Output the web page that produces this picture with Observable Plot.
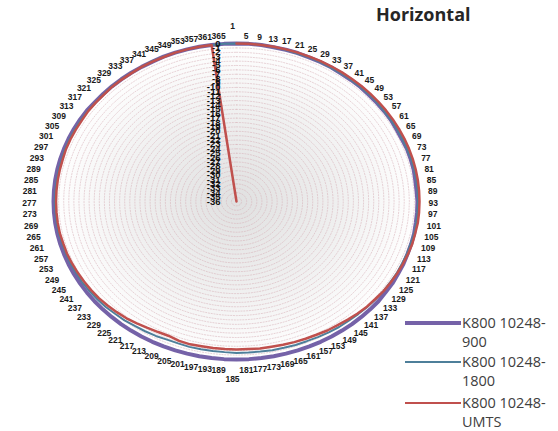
<!DOCTYPE html>
<html><head><meta charset="utf-8">
<script src="https://cdn.jsdelivr.net/npm/d3@7"></script>
<script src="https://cdn.jsdelivr.net/npm/@observablehq/plot@0.6"></script>
<style>
body{margin:0;background:#fff;}
#wrap{position:relative;width:558px;height:431px;overflow:hidden;font-family:"Open Sans",sans-serif;}
#wrap svg{position:absolute;left:0;top:0;}
#title{position:absolute;left:376px;top:2px;font-weight:700;font-size:18px;color:#262626;}
.legline{position:absolute;left:405px;width:56px;}
.legt{position:absolute;left:462px;font-size:14.5px;line-height:19px;color:#404040;white-space:nowrap;}
</style></head><body><div id="wrap"></div>
<script>
const categories = [1,5,9,13,17,21,25,29,33,37,41,45,49,53,57,61,65,69,73,77,81,85,89,93,97,101,105,109,113,117,121,125,129,133,137,141,145,149,153,157,161,165,169,173,177,181,185,189,193,197,201,205,209,213,217,221,225,229,233,237,241,245,249,253,257,261,265,269,273,277,281,285,289,293,297,301,305,309,313,317,321,325,329,333,337,341,345,349,353,357,361,365];
const radialTicks = [0,-1,-2,-3,-4,-5,-6,-7,-8,-9,-10,-11,-12,-13,-14,-15,-16,-17,-18,-19,-20,-21,-22,-23,-24,-25,-26,-27,-28,-29,-30,-31,-32,-33,-34,-35,-36];
const s900 = [0,0,0,-0.1,-0.1,-0.1,-0.2,-0.2,-0.2,-0.3,
 -0.3,-0.3,-0.4,-0.4,-0.4,-0.4,-0.5,-0.5,-0.4,-0.4,
 -0.4,-0.5,-0.5,-0.4,-0.4,-0.4,-0.3,-0.3,-0.3,-0.2,
 -0.2,-0.1,-0.1,0,0,0,0,0,0,0,
 0,0,0,0,0,0,0,0,0,0,
 0,0,0,0,0,0,0,0,0,0,
 0,0,0,0,0,0,0,0,0,0,
 0,0,0,0,0,0,0,0,0,-0.1,
 -0.1,-0.1,-0.1,-0.1,-0.1,-0.1,0,0,0,0,
 0,0];
const s1800 = [0,0,0,-0.1,-0.1,-0.2,-0.2,-0.2,-0.3,-0.3,
 -0.3,-0.3,-0.3,-0.3,-0.4,-0.4,-0.4,-0.4,-0.4,-0.3,
 -0.3,-0.3,-0.3,-0.3,-0.3,-0.3,-0.3,-0.4,-0.4,-0.5,
 -0.5,-0.6,-0.6,-0.7,-0.8,-0.9,-1.0,-1.0,-1.1,-1.2,
 -1.3,-1.3,-1.4,-1.4,-1.5,-1.5,-1.5,-1.6,-1.6,-1.6,
 -1.6,-1.7,-1.7,-1.5,-1.4,-1.3,-1.1,-1.0,-0.8,-0.7,
 -0.6,-0.5,-0.5,-0.4,-0.4,-0.4,-0.3,-0.3,-0.3,-0.3,
 -0.3,-0.3,-0.3,-0.3,-0.2,-0.2,-0.2,-0.2,-0.2,-0.2,
 -0.2,-0.1,-0.1,-0.1,-0.1,0,0,0,0,0,
 0,0];
const sUMTS = [0,0,0,0,0,0,0,0,0,0,
 0,0,0,0,0,0,0,0,0,0,
 0,0,0,0,0,0,-0.1,-0.1,-0.2,-0.3,
 -0.4,-0.5,-0.6,-0.8,-0.9,-1.1,-1.3,-1.5,-1.6,-1.8,
 -1.9,-2.0,-2.1,-2.2,-2.2,-2.3,-2.3,-2.3,-2.3,-2.3,
 -2.2,-2.3,-2.6,-2.5,-2.3,-2.0,-1.7,-1.5,-1.3,-1.1,
 -1.0,-0.9,-0.8,-0.7,-0.6,-0.6,-0.5,-0.5,-0.5,-0.5,
 -0.5,-0.5,-0.5,-0.5,-0.4,-0.4,-0.4,-0.4,-0.3,-0.3,
 -0.3,-0.2,-0.2,-0.2,-0.1,-0.1,-0.1,0,0,0,
 0,-36];
const seriesNames = ["K800 10248-900","K800 10248-1800","K800 10248-UMTS"];
const legendLines = [["K800 10248-","900"],["K800 10248-","1800"],["K800 10248-","UMTS"]];
const seriesColors = ["#7562a8","#4e7f9a","#c0504d"];
const seriesWidths = [4,2,2.5];
const title = "Horizontal";

const RMIN = -36, RMAX = 0, R = RMAX - RMIN;
const n = categories.length;
const kx = 183 / R, ky = 158 / R;
const ang = i => 2 * Math.PI * i / n;
const pt = (i, v) => ({x: (v - RMIN) * Math.sin(ang(i)), y: (v - RMIN) * Math.cos(ang(i))});

// grid rings
const ringPts = [];
radialTicks.forEach(t => { for (let i = 0; i <= n; i++) { const p = pt(i % n, t); ringPts.push({...p, ring: t}); } });
const outline = d3.range(n + 1).map(i => pt(i % n, RMAX));

// series
const allSeries = [s900, s1800, sUMTS];
const seriesPts = allSeries.map((s, k) => {
  const arr = s.map((v, i) => ({...pt(i, v), series: seriesNames[k]}));
  if (k < 2) arr.push({...arr[0]});
  return arr;
});

// category labels (label ellipse in data units, slightly offset centre)
const LX = 38.56, LY = 37.14, cxo = -4 / kx, cyo = -1.5 / ky;
const catLabels = categories.map((c, i) => {
  const a = ang(i), s = String(c), w = s.length * 4.8;
  const vert = Math.abs(Math.sin(a)) < 1e-6 ? 9 : 0;
  return {label: s,
    x: cxo + LX * Math.sin(a) + Math.sin(a) * (w / 2) / kx,
    y: cyo + LY * Math.cos(a) + Math.cos(a) * (4.5 + vert) / ky};
});
const radLabels = radialTicks.map(t => ({label: String(t), x: 0, y: t - RMIN}));

const plot = Plot.plot({
  width: 558, height: 431, margin: 0,
  style: {background: "transparent", overflow: "visible"},
  x: {domain: [-R, R], range: [53, 419], axis: null},
  y: {domain: [-R, R], range: [359, 43], axis: null},
  marks: [
    Plot.line(outline, {x: "x", y: "y", fill: "url(#bg)", stroke: "none"}),
    Plot.line(ringPts, {x: "x", y: "y", z: "ring", stroke: "#d6b0b7", strokeWidth: 0.55, strokeDasharray: "1.2,1.6", curve: "linear"}),
    ...seriesPts.map((arr, k) => Plot.line(arr, {x: "x", y: "y", stroke: seriesColors[k], strokeWidth: seriesWidths[k], curve: "linear"})),
    Plot.text(catLabels, {x: "x", y: "y", text: "label", fontSize: 8.5, fontWeight: "bold", fill: "#1a1a1a", fontFamily: "Liberation Sans", textAnchor: "middle", lineAnchor: "middle"}),
    Plot.text(radLabels, {x: "x", y: "y", text: "label", fontSize: 9.5, fontWeight: "bold", fill: "#111", fontFamily: "Liberation Sans", textAnchor: "end", dx: -16, lineAnchor: "middle"})
  ]
});

const ns = "http://www.w3.org/2000/svg";
const defs = document.createElementNS(ns, "defs");
defs.innerHTML = '<radialGradient id="bg" cx="50%" cy="50%" r="50%"><stop offset="0%" stop-color="#e0e0e0"/><stop offset="55%" stop-color="#efefef"/><stop offset="100%" stop-color="#ffffff"/></radialGradient>';
plot.insertBefore(defs, plot.firstChild);

const wrap = document.getElementById("wrap");
wrap.appendChild(plot);
const t = document.createElement("div"); t.id = "title"; t.textContent = title; wrap.appendChild(t);
const lineY = [323, 362, 403];
legendLines.forEach((lines, k) => {
  const ln = document.createElement("div"); ln.className = "legline";
  ln.style.top = (lineY[k] - seriesWidths[k] / 2) + "px"; ln.style.height = seriesWidths[k] + "px"; ln.style.background = seriesColors[k];
  wrap.appendChild(ln);
  const tx = document.createElement("div"); tx.className = "legt";
  tx.style.top = (lineY[k] - 10) + "px"; tx.innerHTML = lines.join("<br>");
  wrap.appendChild(tx);
});
</script></body></html>
